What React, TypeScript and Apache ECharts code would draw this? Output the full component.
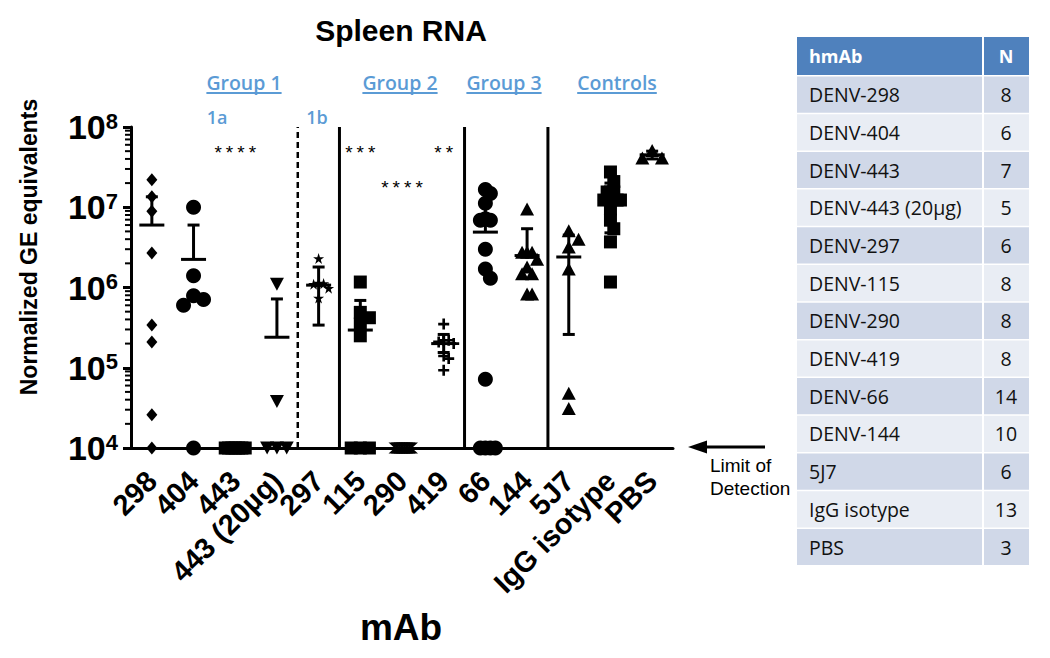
import React, { useEffect, useRef } from "react";
import * as echarts from "echarts";

// ---------------- data ----------------
const categories = ["298", "404", "443", "443 (20µg)", "297", "115", "290", "419", "66", "144", "5J7", "IgG isotype", "PBS"];

const vals298 = [2.2e7, 1.35e7, 8.9e6, 2.7e6, 3.4e5, 2.1e5, 2.6e4, 1e4];
const vals404 = [1.0e7, 1.4e6, 7.9e5, 7.1e5, 6.0e5, 1e4];
const vals443 = [1e4, 1e4, 1e4, 1e4, 1e4, 1e4, 1e4];
const vals443hi = [1.1e6, 3.8e4, 1e4, 1e4, 1e4];
const vals297 = [2.3e6, 1.14e6, 1.12e6, 1.1e6, 9.8e5, 7.4e5];
const vals115 = [1.17e6, 4.9e5, 4.2e5, 3.5e5, 2.5e5, 1e4, 1e4, 1e4];
const vals290 = [1e4, 1e4, 1e4, 1e4, 1e4, 1e4, 1e4, 1e4];
const vals419 = [3.5e5, 2.2e5, 2.2e5, 2.1e5, 2.0e5, 1.4e5, 1.3e5, 9.3e4];
const vals66 = [1.66e7, 1.48e7, 1.12e7, 7.2e6, 6.9e6, 6.9e6, 3.0e6, 1.7e6, 1.3e6, 7.2e4, 1e4, 1e4, 1e4, 1e4];
const vals144 = [9.5e6, 2.75e6, 2.75e6, 2.75e6, 2.25e6, 1.8e6, 1.48e6, 1.48e6, 8.3e5, 8.3e5];
const vals5J7 = [5.1e6, 4.0e6, 3.2e6, 1.7e6, 4.8e4, 3.1e4];
const valsIgG = [2.75e7, 2.09e7, 1.55e7, 1.55e7, 1.55e7, 1.23e7, 1.23e7, 1.23e7, 9.5e6, 6.9e6, 5.4e6, 3.7e6, 1.17e6];
const valsPBS = [5.1e7, 4.1e7, 4.1e7];

const columnValues = [vals298, vals404, vals443, vals443hi, vals297, vals115, vals290, vals419, vals66, vals144, vals5J7, valsIgG, valsPBS];

// mean and error-bar ends (null = not drawn)
const meanVals = [6.0e6, 2.24e6, null, 2.4e5, 1.07e6, 2.95e5, null, 2.0e5, 4.9e6, 2.5e6, 2.4e6, 1.23e7, 4.5e7];
const upperVals = [1.35e7, 6.0e6, null, 7.2e5, 1.8e6, 6.9e5, null, 2.6e5, 1.07e7, 5.4e6, 4.5e6, 2.0e7, 5.0e7];
const lowerVals = [null, null, null, null, 3.4e5, null, null, 1.55e5, null, null, 2.6e5, 4.8e6, 4.0e7];

// significance marks: column index, height, text
const sigColumns = [2, 5, 6, 7];
const sigHeights = [5.2e7, 5.2e7, 1.9e7, 5.2e7];
const sigTexts = ["****", "***", "****", "**"];

// group separators: after column index, dashed flag
const separatorAfter = [3, 4, 7, 9];
const separatorDashed = [true, false, false, false];

const yTickDecades = [1e4, 1e5, 1e6, 1e7];
const minorMultipliers = [2, 3, 4, 5, 6, 7, 8, 9];

const tableNames = ["DENV-298", "DENV-404", "DENV-443", "DENV-443 (20µg)", "DENV-297", "DENV-115", "DENV-290", "DENV-419", "DENV-66", "DENV-144", "5J7", "IgG isotype", "PBS"];
const tableN = [8, 6, 7, 5, 6, 8, 8, 8, 14, 10, 6, 13, 3];

// ---------------- styles ----------------
const ARIAL = "'Liberation Sans', Arial, Helvetica, sans-serif";
const CAL = "'Open Sans', Lato, sans-serif";
const BLUE = "#5b9bd5";

const STAR = "path://M50 0L61.8 35.1L98.8 35.1L68.9 56.8L80.3 91.9L50 70.2L19.7 91.9L31.1 56.8L1.2 35.1L38.2 35.1Z";
const PLUS = "path://M38 0H62V38H100V62H62V100H38V62H0V38H38Z";
const HOURGLASS = "path://M0 0H100L50 50L100 100H0L50 50Z";

const columnSymbols = ["diamond", "circle", "rect", "triangle", STAR, "rect", HOURGLASS, PLUS, "circle", "triangle", "triangle", "rect", "triangle"];
const columnSizes: any[] = [[11, 13], 15, 13, [14, 13], 11, 13, [12, 11], 11, 15, [14, 13], [14, 13], 13, [14, 13]];

function sizeOf(ci: number) {
  const s = columnSizes[ci];
  return Array.isArray(s) ? Math.max(s[0], s[1]) : s;
}

function swarm(vals: number[], s: number, toY: (v: number) => number, maxHalf = 10): number[] {
  const order = vals.map((_, i) => i).sort((a, b) => vals[b] - vals[a]);
  const placed: { x: number; y: number }[] = [];
  const off = new Array(vals.length).fill(0);
  const step = 0.7 * s;
  const dyMax = 0.8 * s;
  for (const i of order) {
    const y = toY(vals[i]);
    for (let k = 0; k < 60; k++) {
      const cand = k === 0 ? 0 : (k % 2 === 1 ? 1 : -1) * Math.ceil(k / 2) * step;
      const hit = placed.some((p) => Math.abs(p.y - y) < dyMax && Math.abs(p.x - cand) < step - 0.01);
      if (!hit) {
        off[i] = cand;
        placed.push({ x: cand, y });
        break;
      }
    }
  }
  const m = Math.max(0, ...off.map((o) => Math.abs(o)));
  const f = m > maxHalf ? maxHalf / m : 1;
  return off.map((o) => o * f);
}

function measure(text: string, font: string) {
  const c = document.createElement("canvas").getContext("2d");
  if (!c) return text.length * 10;
  c.font = font;
  return c.measureText(text).width;
}

export default function App() {
  const ref = useRef<HTMLDivElement>(null);

  useEffect(() => {
    const el = ref.current;
    if (!el) return;
    const chart = echarts.init(el, null, { renderer: "svg" });

    const groupDefs = [
      { t: "Group 1", x: 244 },
      { t: "Group 2", x: 400 },
      { t: "Group 3", x: 504 },
      { t: "Controls", x: 617 },
    ];
    const gFont = `600 19.5px ${CAL}`;
    const groupGraphics: any[] = [];
    groupDefs.forEach((g) => {
      const w = measure(g.t, gFont);
      groupGraphics.push({
        type: "text",
        x: g.x,
        y: 82,
        style: { text: g.t, fill: BLUE, font: gFont, align: "center", verticalAlign: "middle" },
      });
      groupGraphics.push({
        type: "line",
        shape: { x1: g.x - w / 2, y1: 93, x2: g.x + w / 2, y2: 93 },
        style: { stroke: BLUE, lineWidth: 2 },
      });
    });

    const subFont = `600 18px ${CAL}`;
    const tableGraphics: any[] = [];
    const tx0 = 797, tx1 = 983, tx2 = 1029, headTop = 37, headBottom = 75, rowH = 37.7;
    tableGraphics.push({ type: "rect", shape: { x: tx0, y: headTop, width: tx1 - tx0 - 1, height: headBottom - headTop }, style: { fill: "#4f81bd" } });
    tableGraphics.push({ type: "rect", shape: { x: tx1 + 1, y: headTop, width: tx2 - tx1 - 1, height: headBottom - headTop }, style: { fill: "#4f81bd" } });
    tableGraphics.push({ type: "text", x: 809, y: (headTop + headBottom) / 2, style: { text: "hmAb", fill: "#fff", font: `bold 18px ${CAL}`, align: "left", verticalAlign: "middle" } });
    tableGraphics.push({ type: "text", x: (tx1 + tx2) / 2, y: (headTop + headBottom) / 2, style: { text: "N", fill: "#fff", font: `bold 18px ${CAL}`, align: "center", verticalAlign: "middle" } });
    tableNames.forEach((name, i) => {
      const top = headBottom + 1.5 + i * rowH;
      const fill = i % 2 === 0 ? "#d0d8e8" : "#e9edf4";
      tableGraphics.push({ type: "rect", shape: { x: tx0, y: top, width: tx1 - tx0 - 1, height: rowH - 1.5 }, style: { fill } });
      tableGraphics.push({ type: "rect", shape: { x: tx1 + 1, y: top, width: tx2 - tx1 - 1, height: rowH - 1.5 }, style: { fill } });
      tableGraphics.push({ type: "text", x: 809, y: top + (rowH - 1.5) / 2, style: { text: name, fill: "#111", font: `19.5px ${CAL}`, align: "left", verticalAlign: "middle" } });
      tableGraphics.push({ type: "text", x: (tx1 + tx2) / 2, y: top + (rowH - 1.5) / 2, style: { text: String(tableN[i]), fill: "#111", font: `19.5px ${CAL}`, align: "center", verticalAlign: "middle" } });
    });

    const baseGraphics: any[] = [
      { type: "text", x: 401, y: 30, style: { text: "Spleen RNA", fill: "#000", font: `bold 30px ${ARIAL}`, align: "center", verticalAlign: "middle" } },
      { type: "text", x: 29, y: 247, rotation: Math.PI / 2, style: { text: "Normalized GE equivalents", fill: "#000", font: `bold 23px ${ARIAL}`, align: "center", verticalAlign: "middle" } },
      { type: "text", x: 401, y: 627, style: { text: "mAb", fill: "#000", font: `bold 37px ${ARIAL}`, align: "center", verticalAlign: "middle" } },
      { type: "text", x: 217, y: 117, style: { text: "1a", fill: BLUE, font: subFont, align: "center", verticalAlign: "middle" } },
      { type: "text", x: 317, y: 117, style: { text: "1b", fill: BLUE, font: subFont, align: "center", verticalAlign: "middle" } },
      ...groupGraphics,
      { type: "line", shape: { x1: 704, y1: 447, x2: 765, y2: 447 }, style: { stroke: "#000", lineWidth: 3 } },
      { type: "polygon", shape: { points: [[688, 447], [707, 440.5], [707, 453.5]] }, style: { fill: "#000" } },
      { type: "text", x: 710, y: 465, style: { text: "Limit of", fill: "#000", font: `19px ${ARIAL}`, align: "left", verticalAlign: "middle" } },
      { type: "text", x: 710, y: 488, style: { text: "Detection", fill: "#000", font: `19px ${ARIAL}`, align: "left", verticalAlign: "middle" } },
      ...tableGraphics,
    ];

    const minorTickValues: number[] = [];
    yTickDecades.forEach((d) => minorMultipliers.forEach((m) => minorTickValues.push(d * m)));

    const errData: number[][] = [];
    categories.forEach((_, i) => {
      const m = meanVals[i];
      if (m == null) return;
      errData.push([i, m, upperVals[i] ?? m, lowerVals[i] ?? m]);
    });

    const buildOption = (offsets: number[][] | null, extraGraphics: any[]) => ({
      animation: false,
      backgroundColor: "#fff",
      grid: { left: 131, right: 377, top: 127, bottom: 210, containLabel: false, outerBoundsMode: "none" },
      xAxis: {
        type: "category",
        data: categories,
        axisLine: { lineStyle: { color: "#000", width: 3 } },
        axisTick: { alignWithLabel: true, length: 8, interval: 0, lineStyle: { color: "#000", width: 3 } },
        axisLabel: {
          interval: 0,
          rotate: 45,
          margin: 28,
          color: "#000",
          fontFamily: ARIAL,
          fontWeight: "bold",
          fontSize: 29,
        },
        splitLine: { show: false },
      },
      yAxis: {
        type: "log",
        logBase: 10,
        min: 1e4,
        max: 1e8,
        axisLine: { show: true, lineStyle: { color: "#000", width: 3 } },
        axisTick: { show: true, length: 8, lineStyle: { color: "#000", width: 3 } },
        splitLine: { show: false },
        axisLabel: {
          margin: 13,
          formatter: (v: number) => `{b|10}{s|${Math.round(Math.log10(v))}}`,
          rich: {
            b: { fontSize: 34, fontWeight: "bold", fontFamily: ARIAL, color: "#000", lineHeight: 34, verticalAlign: "bottom" },
            s: { fontSize: 22, fontWeight: "bold", fontFamily: ARIAL, color: "#000", lineHeight: 34, verticalAlign: "top" },
          },
        },
      },
      graphic: { elements: [...baseGraphics, ...extraGraphics] },
      series: [
        {
          type: "custom",
          name: "separators",
          silent: true,
          clip: false,
          data: separatorAfter.map((a, i) => [a, 1e4, separatorDashed[i] ? 1 : 0]),
          encode: { x: 0, y: 1 },
          renderItem: (params: any, api: any) => {
            const a = api.value(0);
            const lo0 = api.coord([a, 1e4]);
            const lo1 = api.coord([a + 1, 1e4]);
            const hi = api.coord([a, 1e8]);
            const x = (lo0[0] + lo1[0]) / 2;
            const dashed = api.value(2) === 1;
            return {
              type: "line",
              shape: { x1: x, y1: lo0[1], x2: x, y2: hi[1] },
              style: { stroke: "#000", lineWidth: dashed ? 2.5 : 3, lineDash: dashed ? [6, 4] : null },
            };
          },
          z: 1,
        },
        {
          type: "custom",
          name: "significance",
          silent: true,
          clip: false,
          data: sigColumns.map((c, i) => [c, sigHeights[i], i]),
          encode: { x: 0, y: 1 },
          renderItem: (params: any, api: any) => {
            const p = api.coord([api.value(0), api.value(1)]);
            return {
              type: "text",
              x: p[0],
              y: p[1] + 4,
              style: { text: sigTexts[api.value(2)], fill: "#000", fontSize: 19, fontFamily: "'Liberation Mono', 'DejaVu Sans Mono', monospace", align: "center", verticalAlign: "middle" },
            };
          },
          z: 5,
        },
        ...columnValues.map((vals, ci) => ({
          type: "scatter",
          name: categories[ci],
          symbol: columnSymbols[ci],
          symbolSize: columnSizes[ci],
          symbolRotate: ci === 3 ? 180 : 0,
          itemStyle: { color: "#000", opacity: 1 },
          silent: true,
          z: 2,
          data: vals.map((v, k) => ({ value: [ci, v], symbolOffset: [offsets ? offsets[ci][k] : 0, 0] })),
        })),
        {
          type: "custom",
          name: "errorBars",
          silent: true,
          data: errData,
          encode: { x: 0, y: 1 },
          renderItem: (params: any, api: any) => {
            const i = api.value(0);
            const m = api.coord([i, api.value(1)]);
            const u = api.coord([i, api.value(2)]);
            const l = api.coord([i, api.value(3)]);
            const st = { stroke: "#000", lineWidth: 3 };
            const children: any[] = [
              { type: "line", shape: { x1: m[0] - 12.5, y1: m[1], x2: m[0] + 12.5, y2: m[1] }, style: st },
            ];
            if (u[1] < m[1] - 0.5) {
              children.push({ type: "line", shape: { x1: m[0], y1: m[1], x2: m[0], y2: u[1] }, style: st });
              children.push({ type: "line", shape: { x1: m[0] - 6, y1: u[1], x2: m[0] + 6, y2: u[1] }, style: st });
            }
            if (l[1] > m[1] + 0.5) {
              children.push({ type: "line", shape: { x1: m[0], y1: m[1], x2: m[0], y2: l[1] }, style: st });
              children.push({ type: "line", shape: { x1: m[0] - 6, y1: l[1], x2: m[0] + 6, y2: l[1] }, style: st });
            }
            return { type: "group", children };
          },
          z: 3,
        },
      ],
    });

    chart.setOption(buildOption(null, []) as any);
    const toY = (v: number) => {
      const p = chart.convertToPixel({ gridIndex: 0 } as any, [0, v]) as unknown as number[];
      return p[1];
    };
    const pA = chart.convertToPixel({ gridIndex: 0 } as any, [0, 1e4]) as unknown as number[];
    const pB = chart.convertToPixel({ gridIndex: 0 } as any, [1, 1e4]) as unknown as number[];
    const axisX = pA[0] - (pB[0] - pA[0]) / 2;
    const minorGraphics = minorTickValues.map((v) => {
      const y = toY(v);
      return { type: "line", z: 100, shape: { x1: axisX - 6, y1: y, x2: axisX, y2: y }, style: { stroke: "#000", lineWidth: 2 } };
    });
    const offsets = columnValues.map((vals, ci) => swarm(vals, sizeOf(ci), toY));
    chart.setOption(buildOption(offsets, minorGraphics) as any, { notMerge: true });

    return () => {
      chart.dispose();
    };
  }, []);

  return <div ref={ref} style={{ position: "absolute", left: 0, top: 0, width: 1050, height: 658, background: "#fff" }} />;
}
